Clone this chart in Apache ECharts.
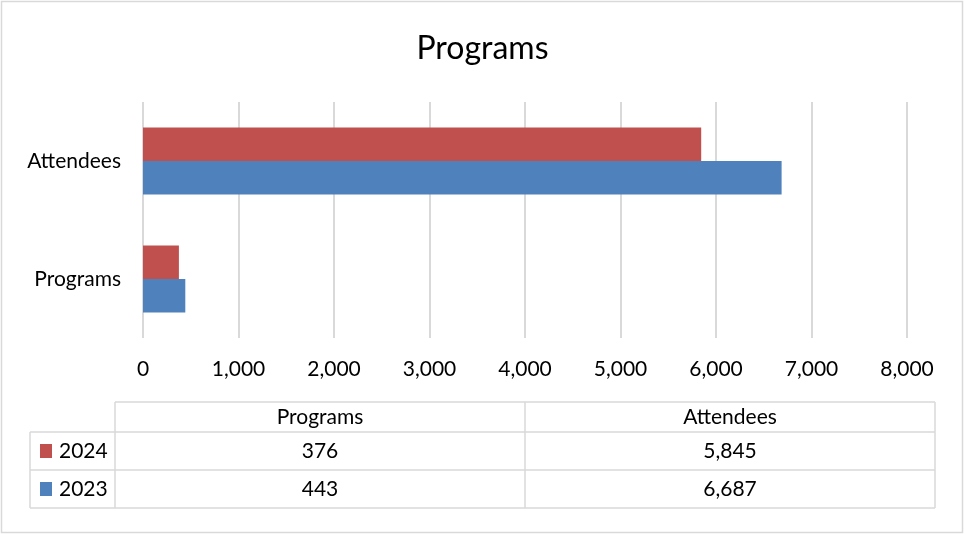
<!DOCTYPE html>
<html>
<head>
<meta charset="utf-8">
<script src="https://cdn.jsdelivr.net/npm/echarts@6/dist/echarts.min.js"></script>
<style>
  html, body { margin: 0; padding: 0; background: #fff; }
  #chart { width: 965px; height: 535px; }
</style>
</head>
<body>
<div id="chart"></div>
<script>
// data
var categories = ['Programs', 'Attendees'];
var seriesNames = ['2024', '2023'];
var values2024 = [376, 5845];
var values2023 = [443, 6687];
var colors = { '2023': '#4F81BD', '2024': '#C0504D' };
var tableRows = ['2024', '2023'];

var fnt = 'Lato, "Open Sans", sans-serif';

function fmt(v) {
    return v.toLocaleString('en-US');
}

var chart = echarts.init(document.getElementById('chart'));

// data table under the axis
var tblLeft = 30, col1 = 115, col2 = 525, tblRight = 935;
var rowY = [402, 432, 470, 508];
var lineColor = '#D9D9D9';
var g = [];
function hline(x1, x2, y) {
    g.push({ type: 'line', shape: { x1: x1, y1: y, x2: x2, y2: y }, style: { stroke: lineColor, lineWidth: 1.5 } });
}
function vline(x, y1, y2) {
    g.push({ type: 'line', shape: { x1: x, y1: y1, x2: x, y2: y2 }, style: { stroke: lineColor, lineWidth: 1.5 } });
}
function txt(x, y, s, align) {
    g.push({ type: 'text', x: x, y: y, style: { text: s, fill: '#000', font: '21px ' + fnt, align: align || 'center', verticalAlign: 'middle' } });
}
// outer border of the chart
g.push({ type: 'rect', shape: { x: 1.5, y: 1.5, width: 961, height: 531 }, style: { fill: 'none', stroke: lineColor, lineWidth: 1.5 } });
hline(col1, tblRight, rowY[0]);
hline(tblLeft, tblRight, rowY[1]);
hline(tblLeft, tblRight, rowY[2]);
hline(tblLeft, tblRight, rowY[3]);
vline(tblLeft, rowY[1], rowY[3]);
vline(col1, rowY[0], rowY[3]);
vline(col2, rowY[0], rowY[3]);
vline(tblRight, rowY[0], rowY[3]);
txt((col1 + col2) / 2, (rowY[0] + rowY[1]) / 2, categories[0]);
txt((col2 + tblRight) / 2, (rowY[0] + rowY[1]) / 2, categories[1]);
tableRows.forEach(function (name, i) {
    var vals = name === '2023' ? values2023 : values2024;
    var cy = (rowY[i + 1] + rowY[i + 2]) / 2;
    g.push({ type: 'rect', shape: { x: 40, y: cy - 7, width: 12, height: 14 }, style: { fill: colors[name] } });
    txt(59, cy, name, 'left');
    txt((col1 + col2) / 2, cy, fmt(vals[0]));
    txt((col2 + tblRight) / 2, cy, fmt(vals[1]));
});

chart.setOption({
    backgroundColor: '#fff',
    animation: false,
    title: {
        text: 'Programs',
        left: 'center',
        top: 28,
        textStyle: { fontFamily: fnt, fontSize: 32, fontWeight: 'normal', color: '#000' }
    },
    grid: { left: 143, right: 58, top: 102, height: 236 },
    xAxis: {
        type: 'value',
        min: 0,
        max: 8000,
        interval: 1000,
        axisLine: { show: false },
        axisTick: { show: false },
        splitLine: { lineStyle: { color: '#D9D9D9', width: 2 } },
        axisLabel: {
            margin: 21,
            fontFamily: fnt,
            fontSize: 21,
            color: '#000',
            formatter: function (v) { return fmt(v); }
        }
    },
    yAxis: {
        type: 'category',
        data: categories,
        axisLine: { show: false },
        axisTick: { show: false },
        axisLabel: { margin: 22, fontFamily: fnt, fontSize: 21, color: '#000' }
    },
    series: [{
        name: seriesNames[0],
        type: 'bar',
        data: values2024,
        itemStyle: { color: colors['2024'] },
        barWidth: '28.4%',
        barGap: '0%',
        barCategoryGap: '43%'
    }, {
        name: seriesNames[1],
        type: 'bar',
        data: values2023,
        itemStyle: { color: colors['2023'] },
        barWidth: '28.4%',
        barGap: '0%',
        barCategoryGap: '43%'
    }],
    graphic: g
});
</script>
</body>
</html>
